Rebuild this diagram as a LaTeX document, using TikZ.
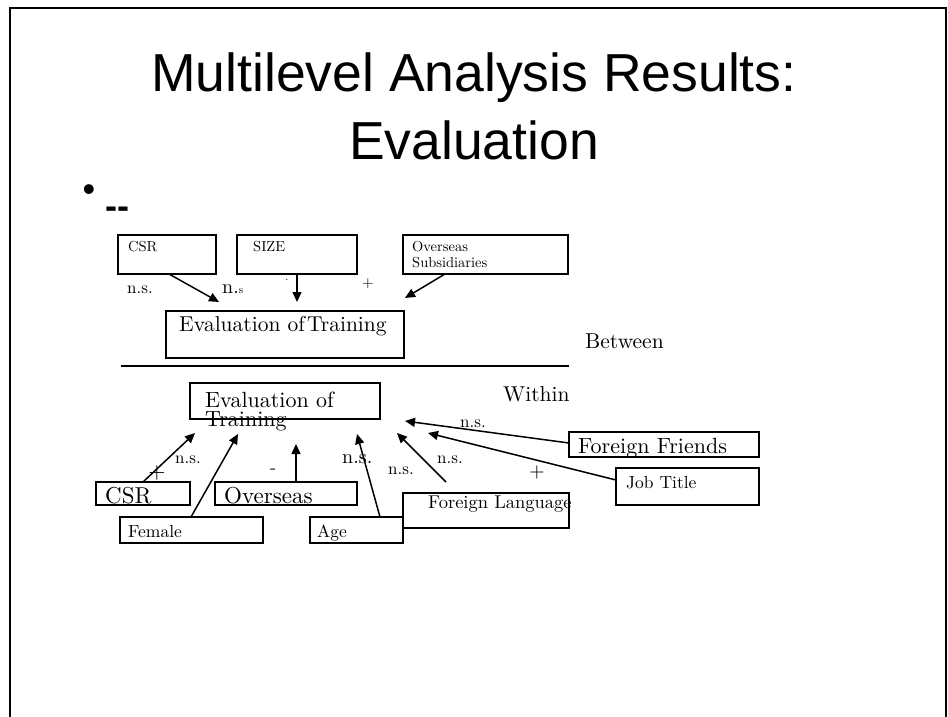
\documentclass[tikz,border=0pt]{standalone}
\usepackage{fontspec}
\setmainfont{lmroman10-regular.otf}
\newfontfamily\arialfont{Liberation Sans}
\usetikzlibrary{arrows.meta}
\tikzset{
  box/.style={draw, line width=1.5pt, rectangle, inner sep=0pt, outer sep=0pt, anchor=north west},
  txt/.style={inner sep=0pt, anchor=base west},
  lbl/.style={inner sep=0pt, anchor=center},
  conn/.style={line width=1.5pt, -{Triangle[length=10pt,width=9pt]}},
  fs/.style={font=\fontsize{#1}{#1}\selectfont}
}
\begin{document}
\begin{tikzpicture}[x=1pt,y=-1pt]
\useasboundingbox (0,0) rectangle (948,717);
% slide frame
\draw[line width=2pt] (10,717) -- (10,8) -- (946,8) -- (946,717);
% title
\node[inner sep=0pt, anchor=base, font=\arialfont\fontsize{53.5}{60}\selectfont] (t1) at (474,92) {Multilevel Analysis Results:};
\node[inner sep=0pt, anchor=base, font=\arialfont\fontsize{53.5}{60}\selectfont] (t2) at (474,159) {Evaluation};
% bullet
\node[lbl, font=\arialfont\fontsize{36}{40}\selectfont] (bul) at (89,193) {•};
\node[txt, font=\arialfont\bfseries\fontsize{36}{40}\selectfont] (dash) at (105,218) {-{}-};

% ---------- Between level ----------
\node[box, minimum width=98pt, minimum height=39pt] (csrT) at (118,235) {};
\node[box, minimum width=120pt, minimum height=39pt] (sizeT) at (237,235) {};
\node[box, minimum width=165pt, minimum height=39pt] (ovsT) at (403,235) {};
\node[box, minimum width=238pt, minimum height=47pt] (evalT) at (166,311) {};

\node[txt, fs=14.5] (csrTt) at (128,251) {CSR};
\node[txt, fs=14.5] (sizeTt) at (253,251) {SIZE};
\node[txt, fs=14.5] (ovsTt1) at (412,251) {Overseas};
\node[txt, fs=14.5] (ovsTt2) at (412,267) {Subsidiaries};
\node[txt, fs=21.5] (evalTt) at (179,331) {Evaluation of\hspace{0.1em}Training};

\coordinate (eT1) at (219,302);
\coordinate (eT2) at (297,302);
\coordinate (eT3) at (405,298);
\draw[conn] ([xshift=51pt]csrT.south west) -- (eT1);
\draw[conn] ([xshift=60pt]sizeT.south west) -- (eT2);
\draw[conn] ([xshift=42pt]ovsT.south west) -- (eT3);

\node[txt, fs=17] (lT1) at (127,293) {n.s.};
\node[txt, fs=20] (lT2) at (222,293) {n.{\fontsize{11}{11}\selectfont s}};
\node[lbl, fs=11] (lT3) at (287,280) {.};
\node[lbl, fs=15] (lT4) at (368,284) {+};

\node[txt, fs=21.5] (between) at (585,348) {Between};
\draw[line width=2pt] (121,366) coordinate (sepL) -- (569,366) coordinate (sepR);
\node[txt, fs=21.5] (within) at (503,401) {Within};

% ---------- Within level ----------
\node[box, minimum width=190pt, minimum height=36pt] (evalB) at (190,383) {};
\node[txt, fs=22] (evalBt1) at (205,407) {Evaluation of};
\node[txt, fs=22] (evalBt2) at (205,426) {Training};

\node[box, minimum width=94pt, minimum height=23pt] (csrB) at (96,482) {};
\node[box, minimum width=142pt, minimum height=23pt] (ovsB) at (215,482) {};
\node[box, minimum width=143pt, minimum height=26pt] (femB) at (120,517) {};
\node[box, minimum width=93pt, minimum height=26pt] (ageB) at (310,517) {};
\node[box, minimum width=166pt, minimum height=35pt] (flB) at (403,493) {};
\node[box, minimum width=190pt, minimum height=25pt] (ffB) at (569,432) {};
\node[box, minimum width=143pt, minimum height=37pt] (jtB) at (616,468) {};

\node[txt, fs=23] (csrBt) at (105,503) {CSR};
\node[txt, fs=23] (ovsBt) at (224,503) {Overseas};
\node[txt, fs=17.5] (femBt) at (128,537) {Female};
\node[txt, fs=17.5] (ageBt) at (317,537) {Age};
\node[txt, fs=18.5] (flBt) at (428,508) {Foreign Language};
\node[txt, fs=22] (ffBt) at (578,453) {Foreign Friends};
\node[txt, fs=17.5] (jtBt) at (626,488) {Job Title};

\coordinate (eB1) at (195,433);
\coordinate (eB2) at (238,434);
\coordinate (eB3) at (296,444);
\coordinate (eB4) at (357,434);
\coordinate (eB5) at (397,433);
\coordinate (eB6) at (405,421);
\coordinate (eB7) at (428,433);
\coordinate (sB5) at (446,482);
\draw[conn] ([xshift=47pt]csrB.north west) -- (eB1);
\draw[conn] ([xshift=71pt]femB.north west) -- (eB2);
\draw[conn] ([xshift=81pt]ovsB.north west) -- (eB3);
\draw[conn] ([xshift=70pt]ageB.north west) -- (eB4);
\draw[conn] (sB5) -- (eB5);
\draw[conn] ([yshift=-11pt]ffB.north west) -- (eB6);
\draw[conn] ([yshift=-12pt]jtB.north west) -- (eB7);

\node[lbl, fs=22] (lB1) at (157,473) {+};
\node[txt, fs=17] (lB2) at (175,463) {n.s.};
\node[lbl, fs=18] (lB3) at (273,471) {-};
\node[txt, fs=20] (lB4) at (342,463) {n.s.};
\node[txt, fs=17] (lB5) at (388,474) {n.s.};
\node[txt, fs=17] (lB6) at (437,463) {n.s.};
\node[txt, fs=17] (lB7) at (460,427) {n.s.};
\node[lbl, fs=20] (lB8) at (537,472) {+};
\end{tikzpicture}
\end{document}
